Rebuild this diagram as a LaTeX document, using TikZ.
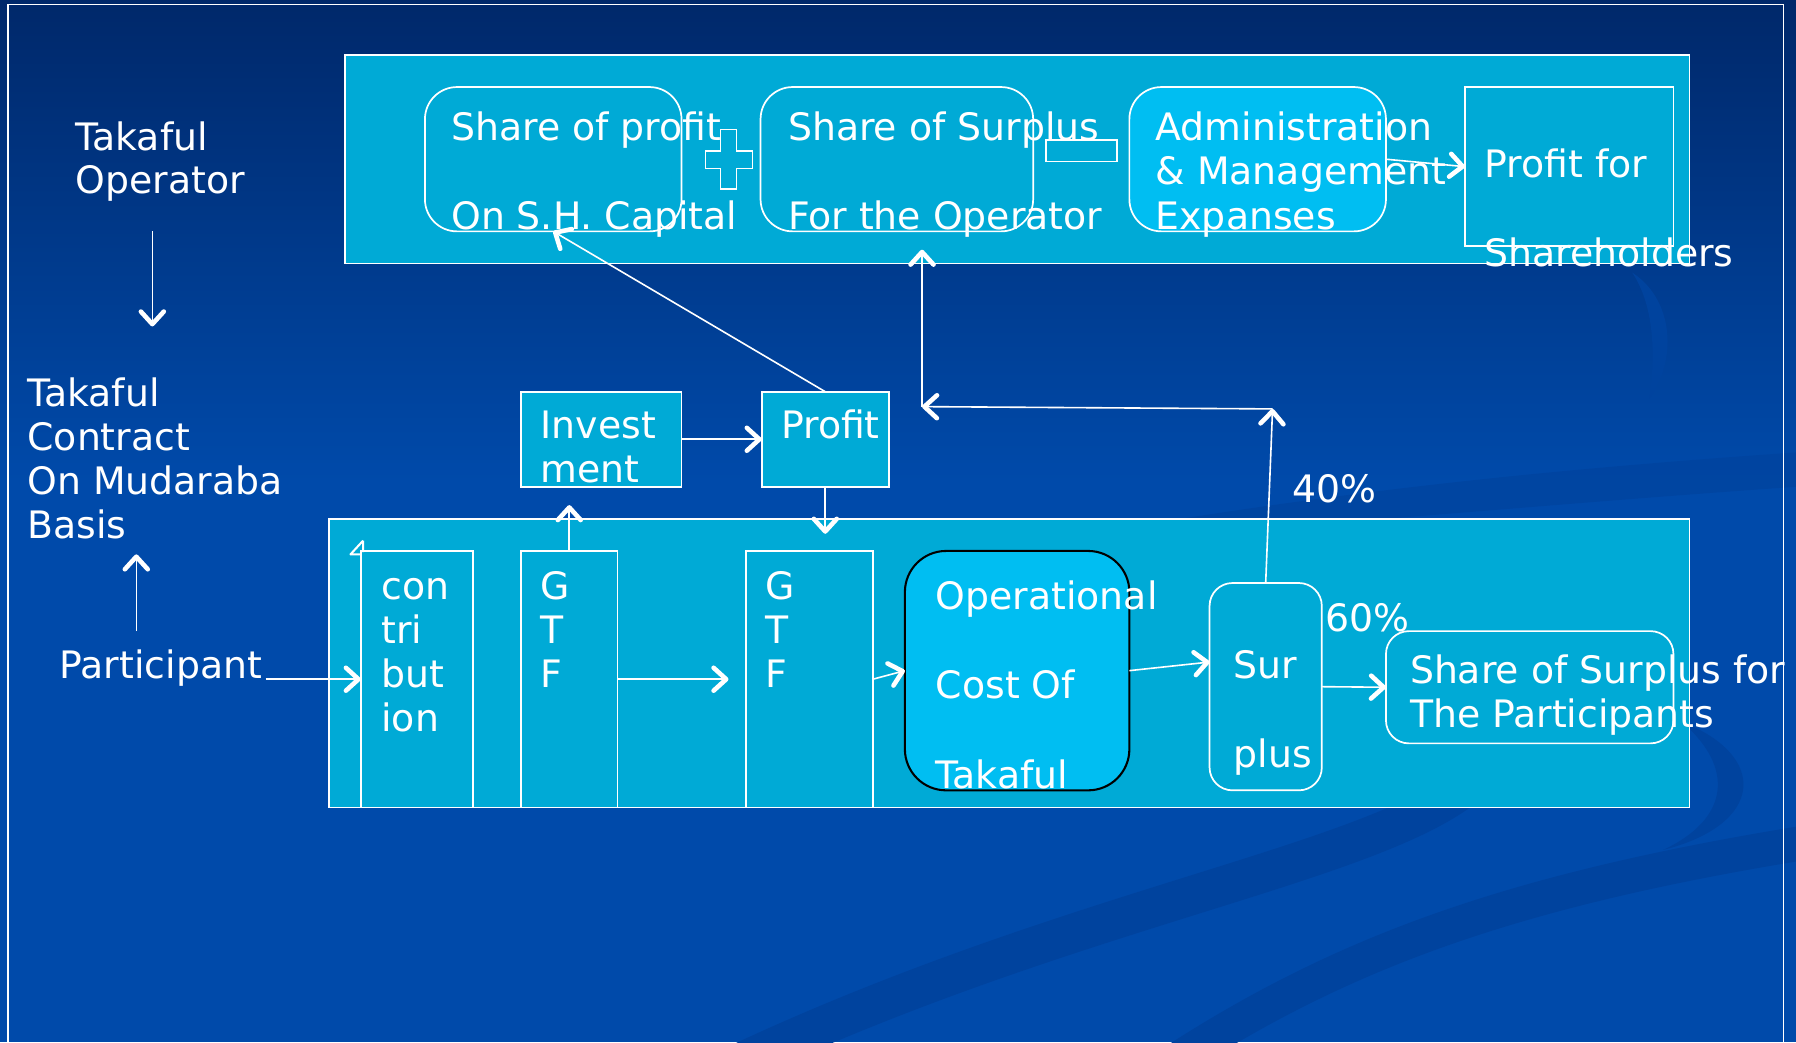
\documentclass[tikz,border=0pt]{standalone}
\usepackage{fontspec}
\setmainfont{DejaVu Sans}
\usetikzlibrary{arrows.meta,calc}

\definecolor{bgtop}{RGB}{0,40,106}
\definecolor{bgbot}{RGB}{0,74,170}
\definecolor{swoosh}{RGB}{0,67,158}
\definecolor{panel}{RGB}{0,170,214}
\definecolor{bright}{RGB}{0,190,242}

\newcommand\fsz{\fontsize{33pt}{38.5pt}\selectfont}

\tikzset{
  panelbox/.style={draw=white, line width=1.5pt, fill=panel, inner sep=0pt, outer sep=0pt},
  roundbox/.style={panelbox, rounded corners=#1},
  flow/.style={draw=white, line width=1.4pt,
    -{Straight Barb[length=11pt, width=20pt, line width=4pt, round]}},
  lbl/.style={text=white, font=\fsz, anchor=base west, inner sep=0pt, outer sep=0pt},
  band/.style={draw=swoosh, line cap=round},
}

\begin{document}
\begin{tikzpicture}[x=1pt, y=-1pt]
\useasboundingbox (0,0) rectangle (1568,910);

% background
\fill[bgbot] (0,0) rectangle (1568,910);
\shade[top color=bgtop, bottom color=bgbot] (0,0) rectangle (1568,420);

% decorative swooshes
\draw[band, line width=34pt] (600,950) .. controls (900,800) and (1180,760) .. (1275,690);
\draw[band, line width=30pt] (990,950) .. controls (1150,840) and (1300,780) .. (1580,735);
\fill[swoosh] (1468,630) .. controls (1545,660) and (1540,720) .. (1452,742)
  .. controls (1510,715) and (1515,670) .. (1468,630) -- cycle;
\fill[swoosh] (1425,238) .. controls (1462,262) and (1464,315) .. (1440,348)
  .. controls (1446,305) and (1443,265) .. (1425,238) -- cycle;
\fill[swoosh, opacity=0.7] (900,475) .. controls (1150,430) and (1350,410) .. (1568,395)
  -- (1568,425) .. controls (1350,440) and (1150,460) .. (900,475) -- cycle;

% slide frame
\draw[white, line width=1.2pt] (7,930) -- (7,4) -- (1557,4) -- (1557,930);

% operator panel
\node[panelbox, minimum width=1174pt, minimum height=182pt] (toppanel) at (888,139) {};
\node[roundbox=28pt, minimum width=224pt, minimum height=126pt] (sp) at (483,139) {};
\node[roundbox=28pt, minimum width=238pt, minimum height=126pt] (ss) at (783,139) {};
\node[roundbox=28pt, fill=bright, minimum width=224pt, minimum height=126pt] (adm) at (1098,139) {};
\node[panelbox, minimum width=182pt, minimum height=139pt] (psh) at (1370,145.5) {};
\node[panelbox, minimum width=62pt, minimum height=19pt] (minus) at (944,131.5) {};
\draw[white, line width=1.5pt, fill=panel]
  (629,113) -- (643,113) -- (643,132) -- (657,132) -- (657,147) -- (643,147)
  -- (643,165) -- (629,165) -- (629,147) -- (616,147) -- (616,132) -- (629,132) -- cycle;

% investment boxes
\node[panelbox, minimum width=140pt, minimum height=83pt] (inv) at (525,383.5) {};
\node[panelbox, minimum width=111pt, minimum height=83pt] (prof) at (720.5,383.5) {};

% participants panel
\node[panelbox, minimum width=1188pt, minimum height=252pt] (botpanel) at (881,579) {};
\node[panelbox, minimum width=98pt, minimum height=224pt] (con) at (364,593) {};
\node[panelbox, minimum width=84pt, minimum height=224pt] (gtfa) at (497,593) {};
\node[panelbox, minimum width=111pt, minimum height=224pt] (gtfb) at (706.5,593) {};
\node[roundbox=36pt, draw=black, line width=1.8pt, fill=bright,
      minimum width=196pt, minimum height=209pt] (oper) at (888,585.5) {};
\node[roundbox=20pt, minimum width=98pt, minimum height=181pt] (sur) at (1105,599.5) {};
\node[roundbox=20pt, minimum width=251pt, minimum height=98pt] (psp) at (1335.5,600) {};
\draw[white, line width=1.8pt, line join=round] (317,472) -- (306,484) -- (316,484) (317,472) -- (317,482);

% connector end points
\coordinate (opA) at (133,202);
\coordinate (opB) at (133,285);
\coordinate (paA) at (119,551);
\coordinate (paB) at (119,484);
\coordinate (paOut) at (232,593);
\coordinate (gtfIn) at (720.5,466);
\coordinate (invIn) at (497,441);
\coordinate (split) at (1111,357);
\coordinate (elbow) at (805,355);
\coordinate (ssIn) at (805,218);

% connectors
\draw[flow] (opA) -- (opB);
\draw[flow] (paA) -- (paB);
\draw[flow] (paOut) -- (con.west);
\draw[flow] (adm.east) -- (psh.west);
\draw[flow] (prof.north) -- (sp.south);
\draw[flow] (inv.east) -- (prof.west);
\draw[flow] (prof.south) -- (gtfIn);
\draw[flow] (gtfa.north) -- (invIn);
\draw[flow, shorten >=15pt] (gtfa.east) -- (gtfb.west);
\draw[flow] (gtfb.east) -- (oper.west);
\draw[flow] (oper.east) -- ($(sur.west)+(0,-21.5)$);
\draw[flow] (sur.east) -- (psp.west);
\draw[flow] (sur.north) -- (split);
\draw[flow] (split) -- (elbow);
\draw[flow] (elbow) -- (ssIn);

% side labels
\node[lbl] (opl1) at (66,131) {Takaful};
\node[lbl] (opl2) at (66,169) {Operator};
\node[lbl] (tc1) at (24,355) {Takaful};
\node[lbl] (tc2) at (24,393.5) {Contract};
\node[lbl] (tc3) at (24,432) {On Mudaraba};
\node[lbl] (tc4) at (24,470.5) {Basis};
\node[lbl] (part) at (52,592) {Participant};

% operator panel texts
\node[lbl] (sp1) at (394,123) {Share of profit};
\node[lbl] (sp2) at (394,200) {On S.H. Capital};
\node[lbl] (ss1) at (688,123) {Share of Surplus};
\node[lbl] (ss2) at (688,200) {For the Operator};
\node[lbl] (ad1) at (1009,123) {Administration};
\node[lbl] (ad2) at (1009,161) {\& Management};
\node[lbl] (ad3) at (1009,200) {Expanses};
\node[lbl] (ps1) at (1296,155) {Profit for};
\node[lbl] (ps2) at (1296,233) {Shareholders};

% middle texts
\node[lbl] (iv1) at (472,383) {Invest};
\node[lbl] (iv2) at (472,421) {ment};
\node[lbl] (pf1) at (682,383) {Profit};
\node[lbl] (p40) at (1128,439) {40\%};

% participants panel texts
\node[lbl] (cn1) at (333,523) {con};
\node[lbl] (cn2) at (333,561.5) {tri};
\node[lbl] (cn3) at (333,600) {but};
\node[lbl] (cn4) at (333,638.5) {ion};
\node[lbl] (ga1) at (472,523) {G};
\node[lbl] (ga2) at (472,561.5) {T};
\node[lbl] (ga3) at (472,600) {F};
\node[lbl] (gb1) at (668,523) {G};
\node[lbl] (gb2) at (668,561.5) {T};
\node[lbl] (gb3) at (668,600) {F};
\node[lbl] (oc1) at (817,532) {Operational};
\node[lbl] (oc2) at (817,610) {Cost Of};
\node[lbl] (oc3) at (817,688) {Takaful};
\node[lbl] (su1) at (1077,592) {Sur};
\node[lbl] (su2) at (1077,670) {plus};
\node[lbl] (p60) at (1157,551) {60\%};
\node[lbl] (pp1) at (1231,597) {Share of Surplus for};
\node[lbl] (pp2) at (1231,635) {The Participants};
\end{tikzpicture}
\end{document}
